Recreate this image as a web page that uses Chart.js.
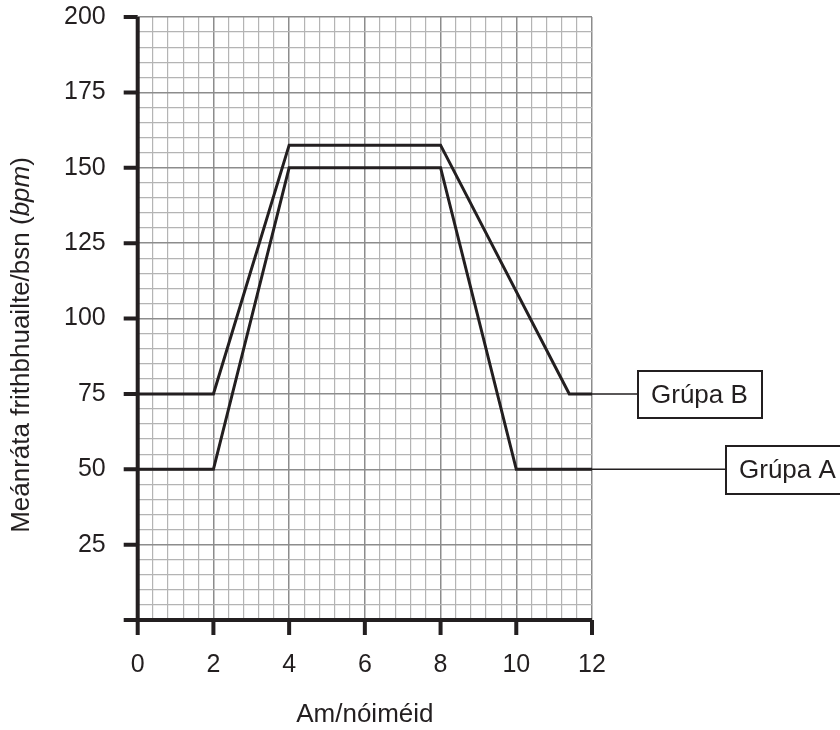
<!DOCTYPE html>
<html>
<head>
<meta charset="utf-8">
<script src="https://cdn.jsdelivr.net/npm/chart.js@4.4.1/dist/chart.umd.min.js"></script>
<style>
  html, body { margin: 0; padding: 0; background: #fff; }
  #wrap { width: 840px; height: 730px; }
</style>
</head>
<body>
<div id="wrap"><canvas id="hrChart"></canvas></div>
<script>
// time (min) and mean heart rate (bpm) for each group
const timeA = [0, 2, 4, 8, 10, 12];
const rateA = [50, 50, 150, 150, 50, 50];
const timeB = [0, 2, 4, 8, 11.4, 12];
const rateB = [75, 75, 157.5, 157.5, 75, 75];

// grid lines: minor every 0.4 min / 5 bpm, labelled every 2 min / 25 bpm
const xGridValues = [0,0.4,0.8,1.2,1.6,2,2.4,2.8,3.2,3.6,4,4.4,4.8,5.2,5.6,6,6.4,6.8,7.2,7.6,8,8.4,8.8,9.2,9.6,10,10.4,10.8,11.2,11.6,12];
const xTickLabels = [0, 2, 4, 6, 8, 10, 12];
const yGridValues = [0,5,10,15,20,25,30,35,40,45,50,55,60,65,70,75,80,85,90,95,100,105,110,115,120,125,130,135,140,145,150,155,160,165,170,175,180,185,190,195,200];
const yTickLabels = [25, 50, 75, 100, 125, 150, 175, 200];

const groupNames = ['Grúpa A', 'Grúpa B'];
const xTitle = 'Am/nóiméid';
const yTitleMain = 'Meánráta frithbhuailte/bsn (';
const yTitleItalic = 'bpm';
const yTitleEnd = ')';

const INK = '#231f20';
const FONT = '"Liberation Sans", Arial, Helvetica, sans-serif';

const toPoints = (xs, ys) => xs.map((x, i) => ({ x: x, y: ys[i] }));
const isMajor = (v, list) => list.some(l => Math.abs(l - v) < 1e-6);

// thick axes, outward tick marks, y title and the group call-outs
const decorPlugin = {
    id: 'decor',
    afterDraw(chart) {
        const ctx = chart.ctx;
        const xs = chart.scales.x;
        const ys = chart.scales.y;
        const a = chart.chartArea;
        ctx.save();
        ctx.strokeStyle = INK;
        ctx.lineCap = 'butt';

        // axes
        ctx.lineWidth = 4;
        ctx.beginPath();
        ctx.moveTo(a.left, a.top);
        ctx.lineTo(a.left, a.bottom + 2);
        ctx.moveTo(a.left - 14, a.bottom);
        ctx.lineTo(a.right, a.bottom);
        ctx.stroke();

        // tick marks
        ctx.beginPath();
        yTickLabels.forEach(v => {
            const py = ys.getPixelForValue(v);
            ctx.moveTo(a.left - 14, py);
            ctx.lineTo(a.left, py);
        });
        xTickLabels.forEach(v => {
            const px = xs.getPixelForValue(v);
            ctx.moveTo(px, a.bottom);
            ctx.lineTo(px, a.bottom + 15);
        });
        ctx.stroke();

        // y axis title (bpm in italics)
        ctx.fillStyle = INK;
        ctx.textBaseline = 'middle';
        const fN = '26px ' + FONT;
        const fI = 'italic 26px ' + FONT;
        ctx.font = fN;
        const w1 = ctx.measureText(yTitleMain).width;
        const w3 = ctx.measureText(yTitleEnd).width;
        ctx.font = fI;
        const w2 = ctx.measureText(yTitleItalic).width;
        const total = w1 + w2 + w3;
        ctx.translate(22, 345);
        ctx.rotate(-Math.PI / 2);
        let cx = -total / 2;
        ctx.textAlign = 'left';
        ctx.font = fN; ctx.fillText(yTitleMain, cx, 0); cx += w1;
        ctx.font = fI; ctx.fillText(yTitleItalic, cx, 0); cx += w2;
        ctx.font = fN; ctx.fillText(yTitleEnd, cx, 0);
        ctx.setTransform(1, 0, 0, 1, 0, 0);
        ctx.scale(chart.currentDevicePixelRatio, chart.currentDevicePixelRatio);

        // call-outs
        const callouts = [
            { name: groupNames[1], y: rateB[rateB.length - 1], box: [638, 371, 124, 47] },
            { name: groupNames[0], y: rateA[rateA.length - 1], box: [726, 446, 130, 48] }
        ];
        ctx.font = '26px ' + FONT;
        ctx.textAlign = 'left';
        callouts.forEach(c => {
            const py = ys.getPixelForValue(c.y);
            ctx.lineWidth = 1.5;
            ctx.beginPath();
            ctx.moveTo(a.right, py);
            ctx.lineTo(c.box[0], py);
            ctx.stroke();
            ctx.lineWidth = 2;
            ctx.strokeRect(c.box[0], c.box[1], c.box[2], c.box[3]);
            ctx.fillText(c.name, c.box[0] + 13, c.box[1] + c.box[3] / 2 + 1);
        });
        ctx.restore();
    }
};

new Chart(document.getElementById('hrChart'), {
    type: 'scatter',
    data: {
        datasets: [
            {
                label: groupNames[0],
                data: toPoints(timeA, rateA),
                showLine: true,
                borderColor: INK,
                borderWidth: 3,
                pointRadius: 0,
                tension: 0
            },
            {
                label: groupNames[1],
                data: toPoints(timeB, rateB),
                showLine: true,
                borderColor: INK,
                borderWidth: 3,
                pointRadius: 0,
                tension: 0
            }
        ]
    },
    options: {
        responsive: true,
        maintainAspectRatio: false,
        animation: false,
        layout: { padding: { top: 17, right: 248, left: 0, bottom: 0 } },
        plugins: {
            legend: { display: false },
            tooltip: { enabled: false }
        },
        scales: {
            x: {
                type: 'linear',
                min: 0,
                max: 12,
                afterBuildTicks: s => { s.ticks = xGridValues.map(v => ({ value: v })); },
                afterFit: s => { s.height = 110; s.paddingLeft = 0; s.paddingRight = 0; },
                grid: {
                    drawTicks: false,
                    color: c => isMajor(c.tick.value, xTickLabels) ? '#8c8c8c' : '#b4b4b4',
                    lineWidth: c => isMajor(c.tick.value, xTickLabels) ? 1.5 : 1.2
                },
                border: { display: false },
                ticks: {
                    autoSkip: false,
                    maxRotation: 0,
                    padding: 30,
                    color: INK,
                    font: { family: FONT, size: 25 },
                    callback: v => isMajor(v, xTickLabels) ? String(Math.round(v)) : ''
                },
                title: {
                    display: true,
                    text: xTitle,
                    color: INK,
                    font: { family: FONT, size: 26 },
                    padding: { top: 0, bottom: 0 }
                }
            },
            y: {
                type: 'linear',
                min: 0,
                max: 200,
                afterBuildTicks: s => { s.ticks = yGridValues.map(v => ({ value: v })); },
                afterFit: s => { s.width = 137.7; s.paddingTop = 0; s.paddingBottom = 0; },
                grid: {
                    drawTicks: false,
                    color: c => isMajor(c.tick.value, yTickLabels) ? '#8c8c8c' : '#b4b4b4',
                    lineWidth: c => isMajor(c.tick.value, yTickLabels) ? 1.5 : 1.2
                },
                border: { display: false },
                ticks: {
                    autoSkip: false,
                    padding: 32,
                    color: INK,
                    font: { family: FONT, size: 25 },
                    callback: v => isMajor(v, yTickLabels) ? String(v) : ''
                }
            }
        }
    },
    plugins: [decorPlugin]
});
</script>
</body>
</html>
